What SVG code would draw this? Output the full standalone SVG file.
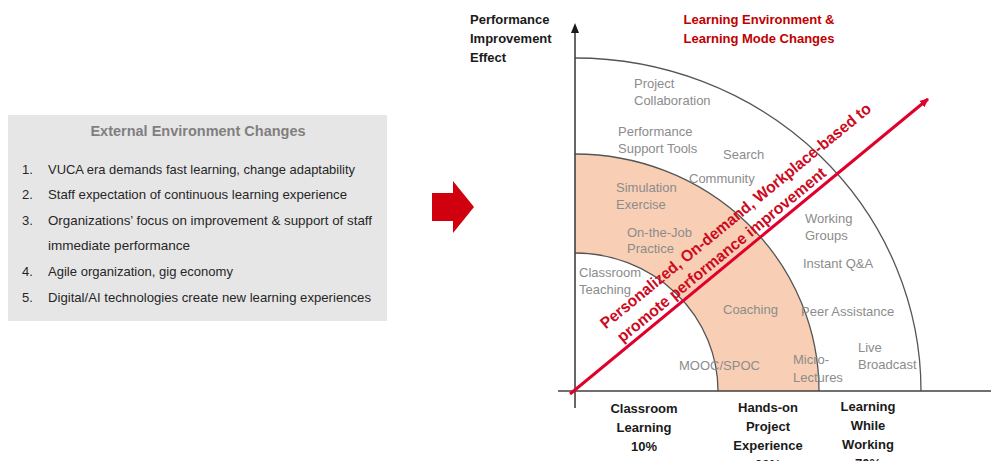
<svg xmlns="http://www.w3.org/2000/svg" width="991" height="461" viewBox="0 0 991 461">
<defs>
<style>
.box{fill:#E7E6E6}
.title{font-family:"Liberation Sans",Arial,sans-serif;font-weight:bold;font-size:14.5px;fill:#7F7F7F;text-anchor:middle}
.item{font-family:"Liberation Sans",Arial,sans-serif;font-size:13px;fill:#262626}
.lbl{font-family:"Liberation Sans",Arial,sans-serif;font-size:13px;fill:#8C8C8C}
.bold{font-family:"Liberation Sans",Arial,sans-serif;font-weight:bold;font-size:13px;fill:#1A1A1A}
.boldc{font-family:"Liberation Sans",Arial,sans-serif;font-weight:bold;font-size:13px;fill:#1A1A1A;text-anchor:middle}
.redt{font-family:"Liberation Sans",Arial,sans-serif;font-weight:bold;font-size:13px;fill:#C00000;text-anchor:middle}
.diag{font-family:"Liberation Sans",Arial,sans-serif;font-weight:bold;font-size:16px;fill:#CC0A22;text-anchor:middle}
.arc{fill:none;stroke:#555555;stroke-width:1.3}
.axis{stroke:#404040;stroke-width:1.6;fill:none}
</style>
<marker id="ah" markerWidth="10" markerHeight="10" refX="8" refY="5" orient="auto" markerUnits="userSpaceOnUse">
<path d="M0,1 L9,5 L0,9 Z" fill="#E0002D"/>
</marker>
</defs>
<rect width="991" height="461" fill="#FFFFFF"/>

<g id="external-box">
<rect class="box" x="8" y="115" width="379" height="206"/>
<text class="title" x="198" y="136">External Environment Changes</text>
<text class="item" x="22" y="174">1.</text>
<text class="item" x="48" y="174" textLength="307" lengthAdjust="spacingAndGlyphs">VUCA era demands fast learning, change adaptability</text>
<text class="item" x="22" y="199">2.</text>
<text class="item" x="48" y="199" textLength="299" lengthAdjust="spacingAndGlyphs">Staff expectation of continuous learning experience</text>
<text class="item" x="22" y="225">3.</text>
<text class="item" x="48" y="225" textLength="324" lengthAdjust="spacingAndGlyphs">Organizations’ focus on improvement &amp; support of staff</text>
<text class="item" x="48" y="250" textLength="142" lengthAdjust="spacingAndGlyphs">immediate performance</text>
<text class="item" x="22" y="276">4.</text>
<text class="item" x="48" y="276" textLength="185" lengthAdjust="spacingAndGlyphs">Agile organization, gig economy</text>
<text class="item" x="22" y="302">5.</text>
<text class="item" x="48" y="302" textLength="323" lengthAdjust="spacingAndGlyphs">Digital/AI technologies create new learning experiences</text>
</g>

<g id="block-arrow">
<polygon points="432,193 453,193 453,181 474,207 453,233 453,221 432,221" fill="#D0000F"/>
</g>

<g id="chart-areas">
<path d="M575,154 A244,237 0 0 1 819,391 L718,391 A143,138 0 0 0 575,253 Z" fill="#F8CFB5"/>
<path class="arc" d="M575,58 A346,333 0 0 1 921,391"/>
<path class="arc" d="M575,154 A244,237 0 0 1 819,391"/>
<path class="arc" d="M575,253 A143,138 0 0 1 718,391"/>
</g>

<g id="axes">
<line class="axis" x1="575" y1="30" x2="575" y2="408"/>
<polygon points="575,23 571,33 579,33" fill="#1A1A1A"/>
<line class="axis" x1="558" y1="391" x2="991" y2="391"/>
</g>

<g id="axis-titles">
<text class="bold" x="470" y="24">Performance</text>
<text class="bold" x="470" y="43">Improvement</text>
<text class="bold" x="470" y="62">Effect</text>
<text class="redt" x="759" y="24">Learning Environment &amp;</text>
<text class="redt" x="759" y="43">Learning Mode Changes</text>
</g>

<g id="labels">
<text class="lbl" x="634" y="88">Project</text>
<text class="lbl" x="634" y="105">Collaboration</text>
<text class="lbl" x="618" y="136">Performance</text>
<text class="lbl" x="618" y="153">Support Tools</text>
<text class="lbl" x="723" y="159">Search</text>
<text class="lbl" x="689" y="183">Community</text>
<text class="lbl" x="616" y="192">Simulation</text>
<text class="lbl" x="616" y="209">Exercise</text>
<text class="lbl" x="627" y="237">On-the-Job</text>
<text class="lbl" x="627" y="253">Practice</text>
<text class="lbl" x="805" y="223">Working</text>
<text class="lbl" x="805" y="240">Groups</text>
<text class="lbl" x="803" y="268">Instant Q&amp;A</text>
<text class="lbl" x="579" y="277">Classroom</text>
<text class="lbl" x="579" y="294">Teaching</text>
<text class="lbl" x="723" y="314">Coaching</text>
<text class="lbl" x="801" y="316">Peer Assistance</text>
<text class="lbl" x="858" y="352">Live</text>
<text class="lbl" x="858" y="369">Broadcast</text>
<text class="lbl" x="679" y="370">MOOC/SPOC</text>
<text class="lbl" x="793" y="364">Micro-</text>
<text class="lbl" x="793" y="382">Lectures</text>
</g>

<g id="connectors">
<line x1="570" y1="394" x2="928" y2="99" stroke="#E0002D" stroke-width="3" marker-end="url(#ah)"/>
</g>

<g id="diagonal-text">
<text class="diag" x="739" y="220" transform="rotate(-39.4 739 220)" textLength="345" lengthAdjust="spacingAndGlyphs">Personalized, On-demand, Workplace-based to</text>
<text class="diag" x="725" y="259" transform="rotate(-39.4 725 259)" textLength="265" lengthAdjust="spacingAndGlyphs">promote performance improvement</text>
</g>

<g id="bottom-labels">
<text class="boldc" x="644" y="413">Classroom</text>
<text class="boldc" x="644" y="432">Learning</text>
<text class="boldc" x="644" y="451">10%</text>
<text class="boldc" x="768" y="412">Hands-on</text>
<text class="boldc" x="768" y="431">Project</text>
<text class="boldc" x="768" y="450">Experience</text>
<text class="boldc" x="768" y="469">20%</text>
<text class="boldc" x="868" y="411">Learning</text>
<text class="boldc" x="868" y="430">While</text>
<text class="boldc" x="868" y="449">Working</text>
<text class="boldc" x="868" y="468">70%</text>
</g>
</svg>
